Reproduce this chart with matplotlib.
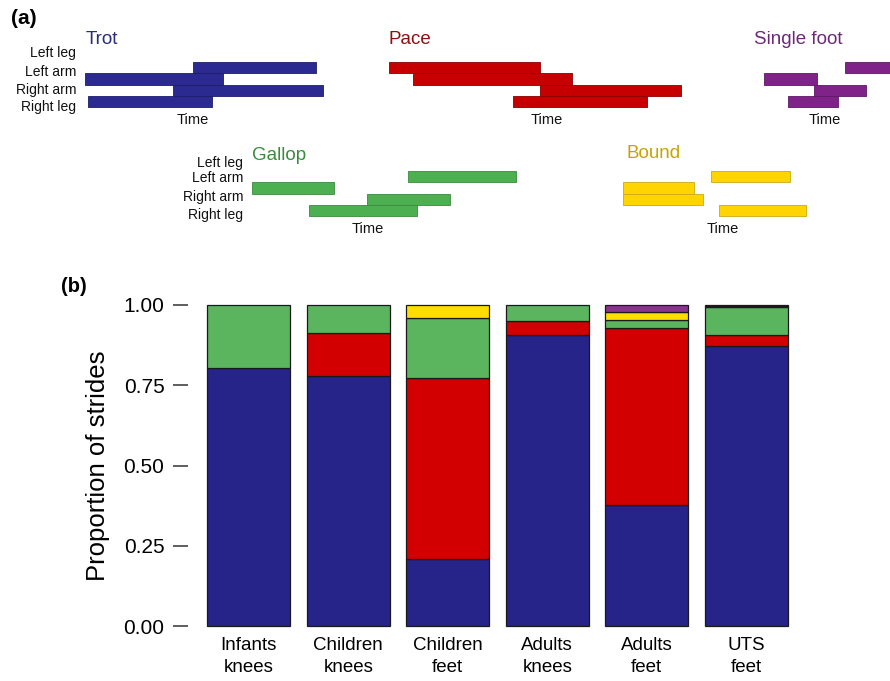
import matplotlib
matplotlib.use("Agg")
import matplotlib.pyplot as plt

plt.rcParams['font.family'] = ['Liberation Sans', 'DejaVu Sans']

W, H = 890, 681

# ---------------- panel (b) data: proportion of strides per gait ----------------
groups = ["Infants\nknees", "Children\nknees", "Children\nfeet",
          "Adults\nknees", "Adults\nfeet", "UTS\nfeet"]
trot = [0.805, 0.780, 0.209, 0.907, 0.378, 0.873]
pace = [0.000, 0.133, 0.563, 0.043, 0.549, 0.033]
gallop = [0.195, 0.087, 0.187, 0.050, 0.025, 0.087]
bound = [0.000, 0.000, 0.041, 0.000, 0.025, 0.003]
single_foot = [0.000, 0.000, 0.000, 0.000, 0.023, 0.004]
y_ticks = [0.0, 0.25, 0.5, 0.75, 1.0]
y_tick_labels = ["0.00", "0.25", "0.50", "0.75", "1.00"]

# ---------------- panel (a) data: stance intervals (start, end) in time units ----------------
limbs = ["Left leg", "Left arm", "Right arm", "Right leg"]
trot_steps = [(109, 232), (1, 139), (89, 239), (4, 128)]
pace_steps = [(2, 153), (26, 185), (153, 294), (126, 260)]
single_foot_steps = [(83, 140), (2, 55), (52, 104), (26, 76)]
gallop_steps = [(158, 266), (2, 84), (117, 200), (59, 167)]
bound_steps = [(90, 169), (2, 73), (2, 82), (98, 185)]

BAR_COLORS = {
    "trot": "#262389", "pace": "#d20000", "gallop": "#5bb55f",
    "bound": "#ffdd00", "single": "#8e2f92",
}


def fx(x):
    return x / W


def fy(y):
    return 1 - y / H


def axes_px(fig, left, top, width, height):
    return fig.add_axes([fx(left), fy(top + height), width / W, height / H])


fig = plt.figure(figsize=(W / 100, H / 100), dpi=100)

# ---------------- panel (a): gait diagrams ----------------
diagrams = [
    # steps, title, fill, edge, title colour, left, top, width, title pos, time pos, labels
    (trot_steps, "Trot", "#2a2a90", "#1d1d6a", "#2c2c7c", 84, 62, 242, (86, 40), (193, 120), (76, [53, 72, 90, 107])),
    (pace_steps, "Pace", "#c60000", "#8e0000", "#8c1010", 387, 62, 296, (389, 39), (547, 120), None),
    (single_foot_steps, "Single foot", "#7f2388", "#5e1866", "#6d2879", 762, 62, 128, (754, 39), (825, 120), None),
    (gallop_steps, "Gallop", "#4caf50", "#3c8a3f", "#3b8b3e", 250, 171, 268, (252, 155), (368, 229), (243, [163, 178, 197, 215])),
    (bound_steps, "Bound", "#ffd400", "#c9aa1a", "#c9a400", 621, 171, 188, (627, 154), (723, 229), None),
]

for steps, title, fill, edge, tcol, left, top, width, tpos, timepos, labels in diagrams:
    ax = axes_px(fig, left, top, width, 45)
    for row, (s, e) in enumerate(steps):
        ax.broken_barh([(s, e - s)], (len(steps) - 1 - row, 1),
                       facecolors=fill, edgecolors=edge, linewidth=0.6)
    ax.set_xlim(0, width)
    ax.set_ylim(0, len(steps))
    ax.axis("off")
    fig.text(fx(tpos[0]), fy(tpos[1]), title, color=tcol, fontsize=13.5,
             ha="left", va="center")
    fig.text(fx(timepos[0]), fy(timepos[1]), "Time", color="#111111",
             fontsize=10.5, ha="center", va="center")
    if labels is not None:
        lx, ly = labels
        for name, y in zip(limbs, ly):
            fig.text(fx(lx), fy(y), name, fontsize=10, ha="right",
                     va="center", color="#111111")

fig.text(fx(11), fy(18), "(a)", fontsize=15, fontweight="bold", ha="left", va="center")
fig.text(fx(61), fy(287), "(b)", fontsize=14.5, fontweight="bold", ha="left", va="center")

# ---------------- panel (b): stacked proportions ----------------
axb = axes_px(fig, 188, 305, 619, 321)
x = range(len(groups))
bottom = [0.0] * len(groups)
for series, key in [(trot, "trot"), (pace, "pace"), (gallop, "gallop"),
                    (bound, "bound"), (single_foot, "single")]:
    for i, v in enumerate(series):
        if v > 0:
            axb.bar(i, v, bottom=bottom[i], width=0.83, color=BAR_COLORS[key],
                    edgecolor="#1a1a1a", linewidth=0.9, clip_on=False)
        bottom[i] += v

axb.set_xlim(-0.61, 5.61)
axb.set_ylim(0, 1)
for side in ["top", "right", "bottom", "left"]:
    axb.spines[side].set_visible(False)
axb.set_yticks(y_ticks)
axb.set_yticklabels(y_tick_labels, fontsize=15)
axb.set_xticks(list(x))
axb.set_xticklabels(groups, fontsize=13.5, linespacing=1.4)
axb.tick_params(axis="y", length=11, width=1.1, pad=6, color="#333333", direction="out")
axb.tick_params(axis="x", length=0, pad=8)
axb.set_ylabel("Proportion of strides", fontsize=18.5, labelpad=10)

fig.savefig("out.png", dpi=100)
